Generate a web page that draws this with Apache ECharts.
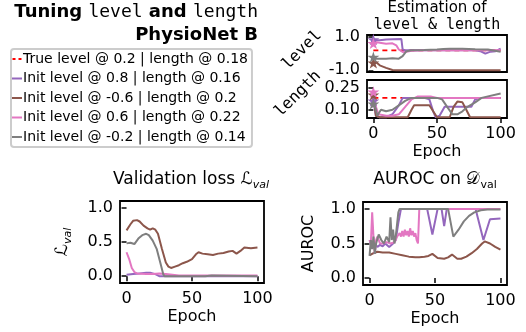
<!DOCTYPE html>
<html>
<head>
<meta charset="utf-8">
<script src="https://cdn.jsdelivr.net/npm/echarts@6/dist/echarts.min.js"></script>
<style>
  html, body {margin: 0; padding: 0; background: #fff;}
  #chart {width: 526px; height: 332px;}
</style>
</head>
<body>
<div id="chart"></div>
<script>
// names shown in the legend
const names = [
  'True level @ 0.2 | length @ 0.18',
  'Init level @ 0.8 | length @ 0.16',
  'Init level @ -0.6 | length @ 0.2',
  'Init level @ 0.6 | length @ 0.22',
  'Init level @ -0.2 | length @ 0.14'
];
const colors = ['#ff0000', '#9467bd', '#8c564b', '#e377c2', '#7f7f7f'];
const epochTicks = [0, 50, 100];

// estimated level per epoch [epoch, value]
const levelTrue = [[0, 0.2], [100, 0.2]];
const levelPurple = [[0, 0.85], [2, 0.82], [5, 0.8], [10, 0.85], [15, 0.87], [22, 0.88], [23, 0.25], [25, 0.2], [30, 0.2], [40, 0.22], [50, 0.2], [60, 0.22], [70, 0.2], [80, 0.2], [84, 0.15], [88, 0.0], [92, 0.12], [96, 0.15], [100, 0.3]];
const levelBrown = [[0, -0.55], [2, -0.5], [5, -0.7], [10, -0.85], [15, -0.98], [18, -1.0], [100, -1.0]];
const levelPink = [[0, 0.62], [2, 0.7], [5, 0.65], [10, 0.6], [15, 0.62], [18, 0.5], [20, 0.25], [23, 0.1], [26, 0.12], [30, 0.17], [40, 0.2], [50, 0.2], [60, 0.2], [70, 0.22], [80, 0.2], [90, 0.22], [100, 0.2]];
const levelGrey = [[0, -0.2], [2, -0.3], [5, -0.3], [10, -0.3], [15, -0.28], [20, -0.3], [23, -0.15], [26, 0.15], [30, 0.2], [40, 0.22], [50, 0.25], [55, 0.28], [60, 0.3], [70, 0.3], [80, 0.27], [90, 0.25], [100, 0.12]];

// estimated length per epoch
const lengthTrue = [[0, 0.18], [100, 0.18]];
const lengthPurple = [[0, 0.16], [2, 0.06], [5, 0.05], [10, 0.05], [15, 0.07], [20, 0.13], [23, 0.18], [30, 0.18], [40, 0.18], [44, 0.17], [47, 0.09], [49, 0.05], [52, 0.06], [56, 0.12], [60, 0.12], [70, 0.12], [77, 0.12], [80, 0.17], [85, 0.18], [100, 0.18]];
const lengthBrown = [[0, 0.2], [2, 0.06], [5, 0.05], [27, 0.05], [30, 0.1], [32, 0.13], [38, 0.13], [44, 0.13], [47, 0.09], [50, 0.05], [60, 0.05], [63, 0.12], [66, 0.155], [70, 0.15], [73, 0.1], [76, 0.05], [100, 0.05]];
const lengthPink = [[0, 0.22], [2, 0.12], [4, 0.07], [10, 0.06], [15, 0.06], [20, 0.07], [25, 0.12], [30, 0.17], [35, 0.19], [45, 0.19], [50, 0.18], [60, 0.18], [70, 0.18], [80, 0.18], [90, 0.18], [100, 0.18]];
const lengthGrey = [[0, 0.14], [2, 0.1], [3, 0.06], [6, 0.1], [10, 0.09], [15, 0.1], [20, 0.13], [25, 0.16], [30, 0.18], [40, 0.18], [50, 0.18], [54, 0.17], [58, 0.12], [62, 0.07], [66, 0.07], [70, 0.09], [74, 0.12], [80, 0.15], [85, 0.18], [100, 0.21]];

// validation loss
const lossPurple = [[0, 0.02], [5, 0.03], [10, 0.04], [15, 0.05], [18, 0.05], [22, 0.03], [25, 0.0], [100, 0.0]];
const lossBrown = [[0, 0.67], [3, 0.76], [5, 0.81], [8, 0.82], [10, 0.8], [13, 0.74], [16, 0.7], [18, 0.68], [20, 0.7], [22, 0.68], [24, 0.62], [27, 0.4], [30, 0.2], [32, 0.14], [34, 0.12], [37, 0.14], [40, 0.16], [43, 0.19], [46, 0.21], [50, 0.25], [53, 0.32], [55, 0.35], [58, 0.33], [62, 0.32], [66, 0.31], [70, 0.33], [74, 0.34], [78, 0.36], [81, 0.37], [84, 0.33], [87, 0.37], [90, 0.42], [95, 0.41], [100, 0.42]];
const lossPink = [[0, 0.35], [2, 0.25], [4, 0.12], [6, 0.06], [8, 0.04], [15, 0.03], [20, 0.03], [25, 0.04], [30, 0.03], [35, 0.02], [40, 0.01], [100, 0.01]];
const lossGrey = [[0, 0.48], [3, 0.49], [6, 0.47], [9, 0.55], [12, 0.6], [15, 0.62], [17, 0.6], [20, 0.52], [23, 0.4], [26, 0.18], [28, 0.03], [29, 0.0], [60, 0.0], [65, 0.01], [100, 0.0]];

// AUROC on validation set
const aurocPurple = [[0, 0.55], [2, 0.45], [4, 0.5], [6, 0.45], [8, 0.48], [10, 0.46], [12, 0.5], [15, 0.45], [18, 0.5], [20, 0.55], [22, 0.8], [24, 1.0], [44, 1.0], [48, 0.63], [52, 1.0], [55, 1.0], [57, 0.75], [59, 1.0], [81, 1.0], [87, 0.55], [92, 0.85], [100, 0.86]];
const aurocBrown = [[0, 0.33], [3, 0.36], [6, 0.38], [10, 0.37], [15, 0.37], [20, 0.35], [25, 0.33], [30, 0.31], [35, 0.3], [38, 0.3], [42, 0.31], [45, 0.32], [48, 0.35], [52, 0.29], [57, 0.28], [60, 0.3], [63, 0.34], [67, 0.28], [70, 0.28], [74, 0.31], [78, 0.36], [82, 0.42], [86, 0.5], [88, 0.53], [92, 0.5], [96, 0.45], [100, 0.41]];
const aurocPink = [[0, 0.55], [1, 0.5], [2, 0.95], [3, 0.6], [4, 0.35], [5, 0.55], [6, 0.6], [8, 0.5], [10, 0.5], [13, 0.52], [16, 0.5], [19, 0.52], [20, 0.55], [21, 0.6], [22, 0.58], [23, 0.65], [24, 0.6], [25, 0.68], [26, 0.6], [27, 0.7], [28, 0.62], [29, 0.68], [30, 0.6], [31, 0.72], [32, 0.62], [33, 0.68], [34, 0.6], [35, 0.65], [36, 0.55], [37, 0.5], [38, 1.0], [100, 1.0]];
const aurocGrey = [[0, 0.32], [1, 0.55], [2, 0.42], [3, 0.6], [4, 0.35], [5, 0.5], [7, 0.63], [9, 0.55], [11, 0.5], [13, 0.6], [15, 0.52], [16, 0.88], [17, 0.55], [18, 0.7], [19, 0.5], [20, 0.6], [22, 0.95], [23, 1.0], [60, 1.0], [64, 0.6], [68, 0.7], [72, 0.82], [76, 0.9], [80, 0.95], [85, 0.98], [90, 0.99], [100, 0.99]];

const myChart = echarts.init(document.getElementById('chart'));

const sans = 'DejaVu Sans';
const mono = 'DejaVu Sans Mono';
const starPath = 'path://M50,0 L61,35 L98,35 L68,57 L79,91 L50,70 L21,91 L32,57 L2,35 L39,35 Z';
const dashIcon = 'path://M0,0 H10 V2 H0 Z';
const dotIcon = 'path://M0,0 H3 V2 H0 Z M6,0 H9 V2 H6 Z';

function line(i, data, axis, star) {
  const pts = data.map((p, k) => (k === 0 && star)
    ? {value: p, symbol: starPath, symbolSize: 12, symbolKeepAspect: true}
    : p);
  return {
    name: names[i],
    type: 'line',
    xAxisIndex: axis,
    yAxisIndex: axis,
    data: pts,
    symbol: 'none',
    showSymbol: true,
    silent: true,
    animation: false,
    itemStyle: {color: colors[i]},
    lineStyle: {color: colors[i], width: i === 0 ? 1.8 : 2, type: i === 0 ? [5, 4] : 'solid'}
  };
}

function xAxis(idx, showLabels) {
  return {
    gridIndex: idx, type: 'value', min: -5, max: 105,
    splitLine: {show: false},
    axisLine: {show: false},
    axisTick: {show: showLabels, length: 5, lineStyle: {color: '#000', width: 1.5}, customValues: epochTicks},
    axisLabel: {show: showLabels, customValues: epochTicks, fontSize: 16, fontFamily: sans, color: '#000', margin: 8},
    name: showLabels ? 'Epoch' : '',
    nameLocation: 'middle', nameGap: 26,
    nameTextStyle: {fontSize: 16, fontFamily: sans, color: '#000'}
  };
}

function yAxis(idx, min, max, ticks, fmt, name, nameGap) {
  return {
    gridIndex: idx, type: 'value', min: min, max: max,
    splitLine: {show: false},
    axisLine: {show: false},
    axisTick: {show: true, length: 5, lineStyle: {color: '#000', width: 1.5}, customValues: ticks},
    axisLabel: {customValues: ticks, fontSize: 16, fontFamily: sans, color: '#000', margin: 7, formatter: fmt},
    name: name || '', nameLocation: 'middle', nameGap: nameGap || 40,
    nameTextStyle: {
      fontSize: 16, fontFamily: sans, color: '#000',
      rich: {
        L: {fontSize: 17, fontFamily: sans, color: '#000', lineHeight: 22},
        s: {fontSize: 11, fontFamily: sans, fontStyle: 'italic', color: '#000', verticalAlign: 'bottom', lineHeight: 22}
      }
    }
  };
}

const gridStyle = {show: true, borderColor: '#000', borderWidth: 1.8, containLabel: false};

function txt(size, family, extra) {
  return Object.assign({fontSize: size, fontFamily: family, fontWeight: 'normal', fill: '#000', color: '#000'}, extra || {});
}

myChart.setOption({
  backgroundColor: '#fff',
  animation: false,
  title: [
    {
      text: '{n|Estimation of}\n{m|level & length}',
      left: 437, top: 0, textAlign: 'center', padding: 0,
      textStyle: {
        fontWeight: 'normal',
        rich: {
          n: txt(15, sans, {lineHeight: 17}),
          m: txt(15, mono, {lineHeight: 17})
        }
      }
    },
    {
      text: '{n|Validation loss }{L|ℒ}{s|val}',
      left: 191, top: 169, textAlign: 'center', padding: 0,
      textStyle: {
        fontWeight: 'normal',
        rich: {
          n: txt(17, sans, {lineHeight: 22}),
          L: txt(17, sans, {lineHeight: 22}),
          s: txt(11, sans, {fontStyle: 'italic', verticalAlign: 'bottom', lineHeight: 22})
        }
      }
    },
    {
      text: '{n|AUROC on }{L|𝒟}{s|val}',
      left: 435, top: 169, textAlign: 'center', padding: 0,
      textStyle: {
        fontWeight: 'normal',
        rich: {
          n: txt(17, sans, {lineHeight: 22}),
          L: txt(17, sans, {lineHeight: 22}),
          s: txt(11, sans, {verticalAlign: 'bottom', lineHeight: 22})
        }
      }
    }
  ],
  legend: {
    data: names.map((n, i) => ({name: n, icon: i === 0 ? dotIcon : dashIcon})),
    orient: 'vertical',
    left: 11, top: 49,
    padding: [3, 4, 3, 1],
    itemWidth: 10, itemHeight: 2, itemGap: 5.5,
    borderColor: '#cccccc', borderWidth: 2, borderRadius: 3,
    selectedMode: false,
    textStyle: {fontSize: 14, fontFamily: sans, color: '#000', padding: [0, 0, 0, -4]}
  },
  graphic: [
    {type: 'text', x: 258, y: 1,
      style: {
        text: '{b|Tuning }{m|level}{b| and }{m|length}\n{b|PhysioNet B}',
        align: 'right', verticalAlign: 'top',
        rich: {
          b: txt(18, sans, {fontWeight: 'bold', lineHeight: 23, align: 'right'}),
          m: txt(18, mono, {lineHeight: 23, align: 'right'})
        }
      }},
    {type: 'text', x: 302, y: 50, rotation: Math.PI / 4,
      style: {text: 'level', font: '16px "DejaVu Sans Mono"', fill: '#000', align: 'center', verticalAlign: 'middle'}},
    {type: 'text', x: 298, y: 94, rotation: Math.PI / 4,
      style: {text: 'length', font: '16px "DejaVu Sans Mono"', fill: '#000', align: 'center', verticalAlign: 'middle'}}
  ],
  grid: [
    Object.assign({left: 367, top: 35, width: 140, height: 37}, gridStyle),
    Object.assign({left: 367, top: 80, width: 140, height: 38}, gridStyle),
    Object.assign({left: 120, top: 201, width: 144, height: 82}, gridStyle),
    Object.assign({left: 363, top: 202, width: 144, height: 83}, gridStyle)
  ],
  xAxis: [xAxis(0, false), xAxis(1, true), xAxis(2, true), xAxis(3, true)],
  yAxis: [
    yAxis(0, -1.1, 1.12, [-1, 1], v => v.toFixed(1)),
    yAxis(1, 0.045, 0.3, [0.1, 0.25], v => v.toFixed(2)),
    yAxis(2, -0.1, 1.1, [0, 0.5, 1], v => v.toFixed(1), '{L|ℒ}{s|val}', 46),
    yAxis(3, -0.1, 1.1, [0, 0.5, 1], v => v.toFixed(1), 'AUROC', 46)
  ],
  series: [
    line(0, levelTrue, 0, false),
    line(1, levelPurple, 0, true),
    line(2, levelBrown, 0, true),
    line(3, levelPink, 0, true),
    line(4, levelGrey, 0, true),
    line(0, lengthTrue, 1, false),
    line(1, lengthPurple, 1, true),
    line(2, lengthBrown, 1, true),
    line(3, lengthPink, 1, true),
    line(4, lengthGrey, 1, true),
    line(1, lossPurple, 2, false),
    line(2, lossBrown, 2, false),
    line(3, lossPink, 2, false),
    line(4, lossGrey, 2, false),
    line(1, aurocPurple, 3, false),
    line(2, aurocBrown, 3, false),
    line(3, aurocPink, 3, false),
    line(4, aurocGrey, 3, false)
  ]
});
</script>
</body>
</html>
